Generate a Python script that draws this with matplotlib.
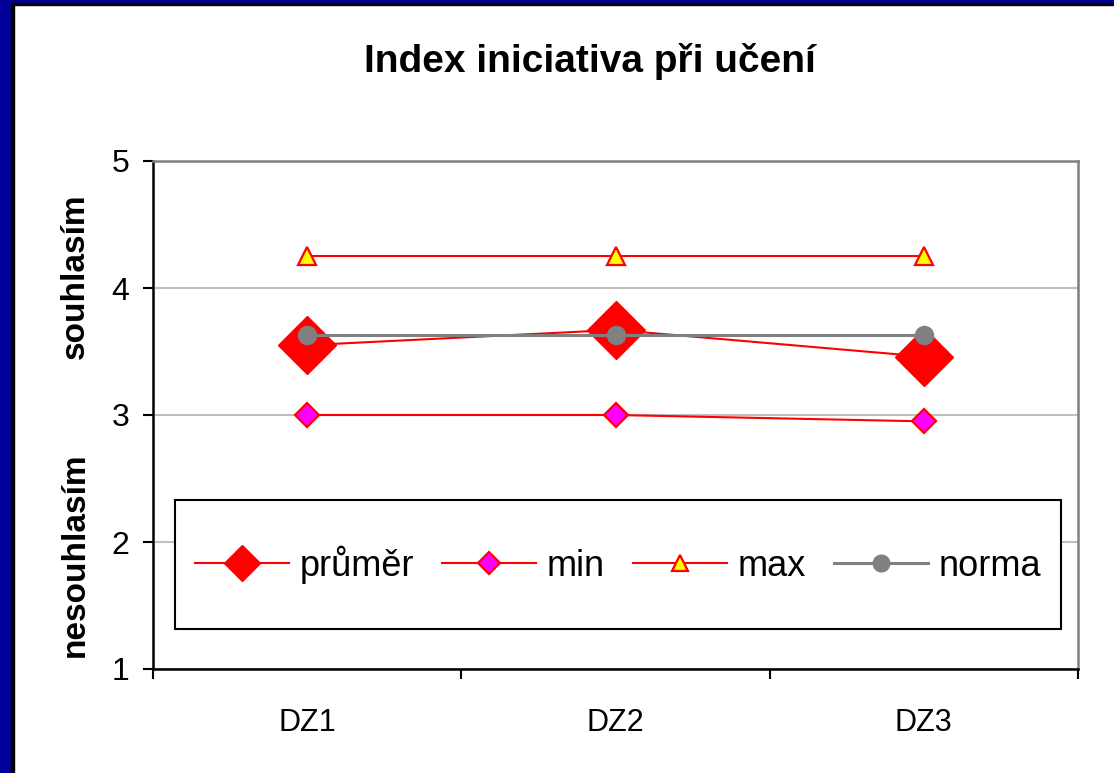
import matplotlib
matplotlib.use('Agg')
import matplotlib.pyplot as plt
from matplotlib.lines import Line2D
from matplotlib.patches import Rectangle

categories = ['DZ1', 'DZ2', 'DZ3']
prumer = [3.55, 3.67, 3.46]
min_vals = [3.0, 3.0, 2.95]
max_vals = [4.25, 4.25, 4.25]
norma = [3.63, 3.63, 3.63]
series_names = ['průměr', 'min', 'max', 'norma']
title = 'Index iniciativa při učení'

NARROW = ['Liberation Sans Narrow', 'Liberation Sans', 'DejaVu Sans']
BOLD = ['Liberation Sans', 'DejaVu Sans']

W, H = 1114, 773
fig = plt.figure(figsize=(W / 100, H / 100), dpi=100)
fig.patch.set_facecolor('white')

# blue slide frame (left and top) with thin black edge
fig.add_artist(Rectangle((0, 0), 11 / W, 1, transform=fig.transFigure, color='#000099', zorder=0))
fig.add_artist(Rectangle((0, 1 - 3 / H), 1, 3 / H, transform=fig.transFigure, color='#000099', zorder=0))
fig.add_artist(Rectangle((11 / W, 0), 3 / W, 1 - 3 / H, transform=fig.transFigure, color='black', zorder=0))
fig.add_artist(Rectangle((11 / W, 1 - 5 / H), 1 - 11 / W, 2 / H, transform=fig.transFigure, color='black', zorder=0))

ax = fig.add_axes([153 / W, 1 - 669 / H, (1078 - 153) / W, (669 - 161) / H])
x = list(range(1, len(categories) + 1))

ax.plot(x, prumer, color='red', lw=1.5, marker='D', ms=30, mfc='red', mec='red', mew=1, zorder=3)
ax.plot(x, min_vals, color='red', lw=1.5, marker='D', ms=12, mfc='#ff00ff', mec='red', mew=1.6, zorder=3)
ax.plot(x, max_vals, color='red', lw=1.5, marker='^', ms=13, mfc='#ffff00', mec='red', mew=1.6, zorder=3)
ax.plot(x, norma, color='#808080', lw=2.2, marker='o', ms=13, mfc='#808080', mec='#808080', zorder=3)

ax.set_xlim(0.5, len(categories) + 0.5)
ax.set_ylim(1, 5)
ax.set_yticks([1, 2, 3, 4, 5])
ax.set_yticklabels(['1', '2', '3', '4', '5'], family=NARROW, fontsize=23)
ax.yaxis.grid(True, color='#c0c0c0', lw=1.5)
ax.set_axisbelow(True)

ax.set_xticks([0.5 + i for i in range(len(categories) + 1)])
ax.set_xticklabels([])
ax.set_xticks(x, minor=True)
ax.set_xticklabels(categories, minor=True, family=NARROW, fontsize=22)
ax.tick_params(axis='x', which='major', direction='out', length=7, width=1.5)
ax.tick_params(axis='x', which='minor', length=0, pad=28)
ax.tick_params(axis='y', direction='out', length=7, width=1.5, pad=10)

for s in ['left', 'bottom']:
    ax.spines[s].set_color('black')
    ax.spines[s].set_linewidth(1.8)
for s in ['top', 'right']:
    ax.spines[s].set_color('#808080')
    ax.spines[s].set_linewidth(1.8)

# legend box drawn separately so its size matches the original
leg_box = (0.0238, 0.0787, 0.9578, 0.254)
ax.add_patch(Rectangle(leg_box[:2], leg_box[2], leg_box[3], transform=ax.transAxes,
                       facecolor='white', edgecolor='black', lw=1.5, zorder=4))

handles = [
    Line2D([], [], color='red', lw=1.5, marker='D', ms=18, mfc='red', mec='red'),
    Line2D([], [], color='red', lw=1.5, marker='D', ms=11, mfc='#ff00ff', mec='red', mew=1.6),
    Line2D([], [], color='red', lw=1.5, marker='^', ms=12, mfc='#ffff00', mec='red', mew=1.6),
    Line2D([], [], color='#808080', lw=2.2, marker='o', ms=12, mfc='#808080', mec='#808080'),
]
leg = ax.legend(handles, series_names, loc='center', ncol=4, mode='expand',
                bbox_to_anchor=leg_box, borderaxespad=0,
                prop={'family': NARROW, 'size': 26},
                handlelength=2.6, handletextpad=0.3, columnspacing=1.0,
                frameon=False, borderpad=0.55)
leg.set_zorder(5)

fig.text(590 / W, 1 - 61 / H, title, ha='center', va='center',
         family=BOLD, fontweight='bold', fontsize=28)
fig.text(75 / W, 1 - 276 / H, 'souhlasím', rotation=90, ha='center', va='center',
         family=BOLD, fontweight='bold', fontsize=24)
fig.text(75 / W, 1 - 555 / H, 'nesouhlasím', rotation=90, ha='center', va='center',
         family=BOLD, fontweight='bold', fontsize=24)

fig.savefig('out.png', dpi=100)
